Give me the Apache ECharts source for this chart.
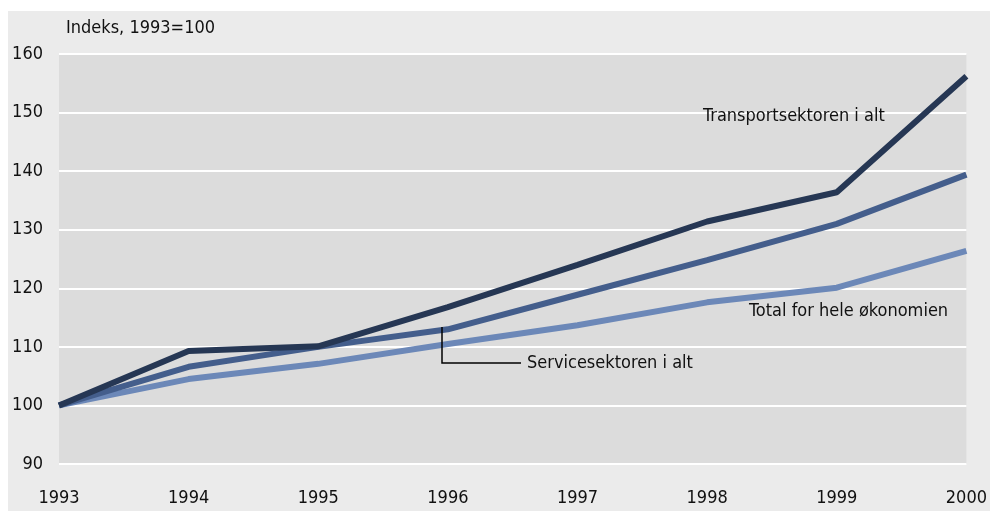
<!DOCTYPE html>
<html><head><meta charset="utf-8">
<script src="https://cdn.jsdelivr.net/npm/echarts@6/dist/echarts.min.js"></script>
<style>html,body{margin:0;padding:0;background:#fff}#c{width:990px;height:511px}</style>
</head><body><div id="c"></div>
<script>
const years = ['1993','1994','1995','1996','1997','1998','1999','2000'];
const transport = [100, 109.3, 110.1, 116.8, 124.0, 131.4, 136.4, 156.2];
const service = [100, 106.6, 110.0, 113.0, 118.9, 124.8, 131.0, 139.4];
const total = [100, 104.5, 107.1, 110.5, 113.7, 117.6, 120.1, 126.4];
const yTicks = [90, 160, 10];
const FONT = '"Liberation Sans Narrow", "DejaVu Sans Condensed", "Open Sans", sans-serif';

const chart = echarts.init(document.getElementById('c'));
const txt = {fontFamily: FONT, fontSize: 18, fill: '#111'};
chart.setOption({
  animation: false,
  backgroundColor: '#fff',
  grid: {left: 59, right: 23, top: 54, bottom: 47, show: true, backgroundColor: '#dcdcdc', borderWidth: 0},
  xAxis: {
    type: 'category', data: years, boundaryGap: false,
    axisLine: {show: false}, axisTick: {show: false}, splitLine: {show: false},
    axisLabel: {fontFamily: FONT, fontSize: 18, color: '#111', margin: 25}
  },
  yAxis: {
    type: 'value', min: yTicks[0], max: yTicks[1], interval: yTicks[2],
    axisLine: {show: false}, axisTick: {show: false},
    splitLine: {lineStyle: {color: '#ffffff', width: 2}},
    axisLabel: {fontFamily: FONT, fontSize: 18, color: '#111', margin: 16}
  },
  graphic: [
    {type: 'rect', z: -10, shape: {x: 8, y: 11, width: 982, height: 500}, style: {fill: '#ebebeb'}},
    {type: 'text', left: 66, top: 19, style: Object.assign({text: 'Indeks, 1993=100'}, txt)},
    {type: 'text', left: 703, top: 107, z: 100, style: Object.assign({text: 'Transportsektoren i alt'}, txt)},
    {type: 'text', left: 749, top: 302, z: 100, style: Object.assign({text: 'Total for hele økonomien'}, txt)},
    {type: 'text', left: 527, top: 354, z: 100, style: Object.assign({text: 'Servicesektoren i alt'}, txt)},
    {type: 'polyline', z: 100, shape: {points: [[442, 327], [442, 363], [521, 363]]}, style: {stroke: '#000', lineWidth: 1.5, fill: null}}
  ],
  series: [
    {type: 'line', name: 'Total for hele økonomien', data: total, symbol: 'none', lineStyle: {color: '#6c88b8', width: 6}, z: 3},
    {type: 'line', name: 'Servicesektoren i alt', data: service, symbol: 'none', lineStyle: {color: '#445e8c', width: 6}, z: 4},
    {type: 'line', name: 'Transportsektoren i alt', data: transport, symbol: 'none', lineStyle: {color: '#263754', width: 6}, z: 5}
  ]
});
</script></body></html>
